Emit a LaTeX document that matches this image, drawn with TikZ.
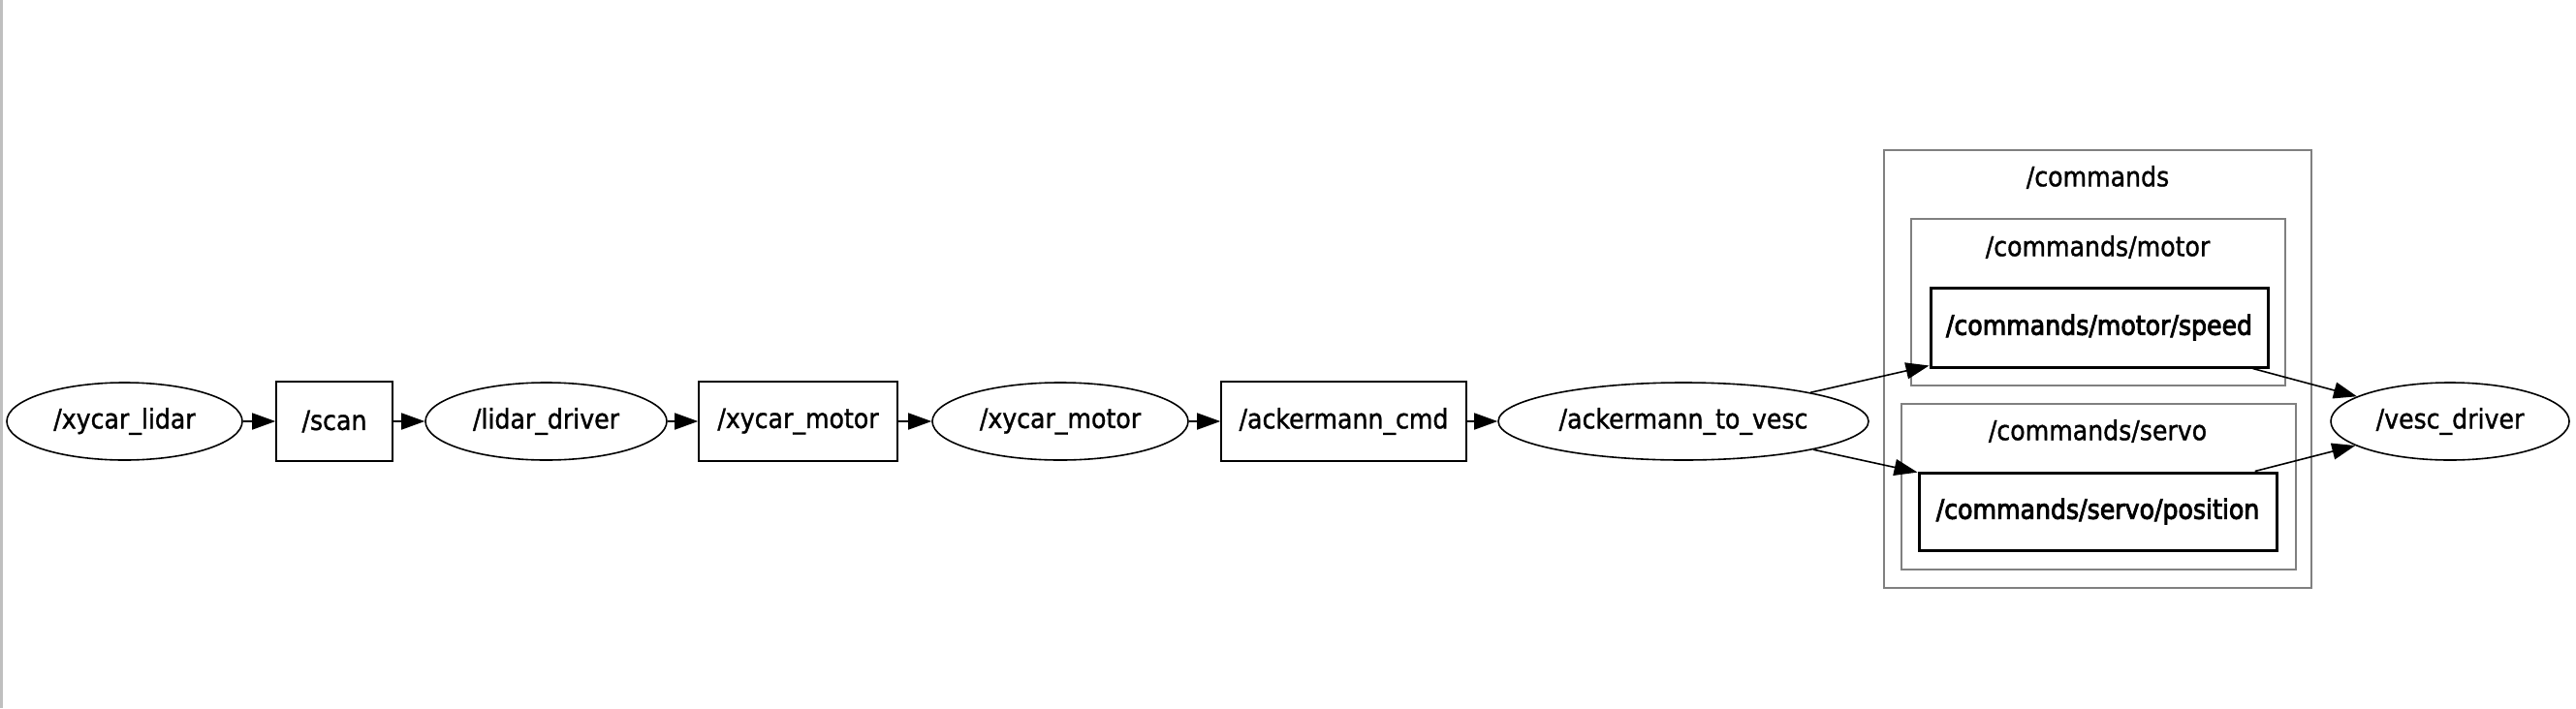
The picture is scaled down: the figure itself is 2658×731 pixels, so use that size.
\documentclass[tikz,border=0pt]{standalone}
\usepackage{fontspec}
\setmainfont{DejaVu Sans}[FakeStretch=0.9, FakeBold=1.2]
\newfontfamily\tpbold{DejaVu Sans}[FakeStretch=0.9, FakeBold=3]
\usetikzlibrary{arrows.meta,shapes.geometric}
\tikzset{nd/.style={draw, ellipse, line width=1.6pt, inner sep=0pt, minimum height=80pt},
  tp/.style={draw, rectangle, line width=1.6pt, inner sep=0pt, minimum height=82pt},
  tpin/.style={tp, line width=3pt, font=\fontsize{28}{33}\tpbold},
  grp/.style={draw=gray, line width=2.5pt},
  edge/.style={line width=1.6pt, -{Triangle[length=24pt, width=17pt]}}}

\begin{document}
\begin{tikzpicture}[x=1pt, y=-1pt, font=\fontsize{28}{33}\selectfont]
  \useasboundingbox (0,0) rectangle (2658,731);
  \draw[gray!50, line width=3pt] (1.5,0) -- (1.5,731);
  % clusters on the right
  \draw[grp] (1944,155) rectangle (2385,607);
  \node (gcmd) at (2164.5,183) {/commands};
  \draw[grp] (1972,226) rectangle (2358,398);
  \node (gmotor) at (2164.5,255) {/commands/motor};
  \draw[grp] (1962,417) rectangle (2369,588);
  \node (gservo) at (2164.5,445) {/commands/servo};
  % nodes and topics in a row
  \node[nd, minimum width=243pt] (lidar) at (128.5,435) {/xycar\_lidar};
  \node[tp, minimum width=120pt] (scan) at (345,435) {/scan};
  \node[nd, minimum width=249pt] (ldrv) at (563.5,435) {/lidar\_driver};
  \node[tp, minimum width=205pt] (motortp) at (823.5,435) {/xycar\_motor};
  \node[nd, minimum width=264pt] (motor) at (1094,435) {/xycar\_motor};
  \node[tp, minimum width=253pt] (acmd) at (1386.5,435) {/ackermann\_cmd};
  \node[nd, minimum width=382pt] (a2v) at (1737,435) {/ackermann\_to\_vesc};
  \node[tpin, minimum width=348pt] (speed) at (2166,338) {/commands/motor/speed};
  \node[tpin, minimum width=369pt, minimum height=80pt] (pos) at (2164.5,528) {/commands/servo/position};
  \node[nd, minimum width=246pt] (vesc) at (2528,435) {/vesc\_driver};
  % edges
  \draw[edge] (lidar) -- (scan);
  \draw[edge] (scan) -- (ldrv);
  \draw[edge] (ldrv) -- (motortp);
  \draw[edge] (motortp) -- (motor);
  \draw[edge] (motor) -- (acmd);
  \draw[edge] (acmd) -- (a2v);
  \draw[edge] (a2v) -- (speed);
  \draw[edge] (a2v) -- (pos);
  \draw[edge] (speed) -- (vesc);
  \draw[edge] (pos) -- (vesc);
\end{tikzpicture}
\end{document}
